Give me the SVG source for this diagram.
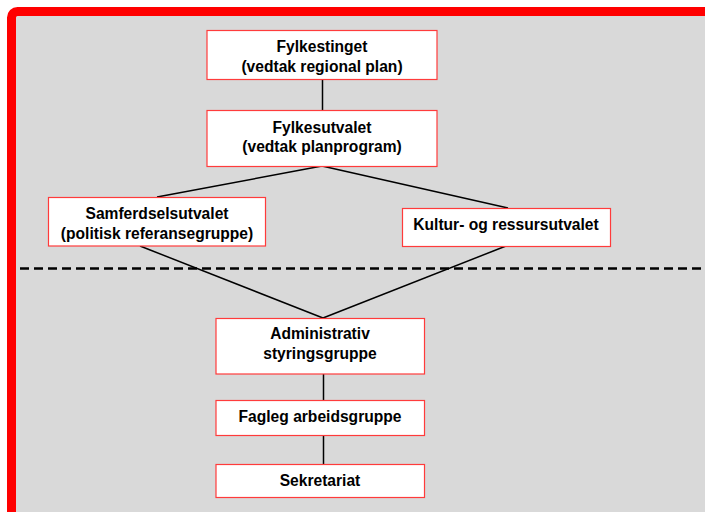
<svg xmlns="http://www.w3.org/2000/svg" width="705" height="512" viewBox="0 0 705 512">
<style>
.box{fill:#fff;stroke:#ff3b3b;stroke-width:1.2}
.t{font-family:"Liberation Sans",Arial,sans-serif;font-weight:bold;font-size:15.6px;fill:#000;text-anchor:middle}
.c{stroke:#000;stroke-width:1.5;fill:none}
</style>
<rect width="705" height="512" fill="#fff"/>
<rect x="11.5" y="11.5" width="720" height="530" rx="6" fill="#d9d9d9" stroke="#ff0000" stroke-width="9"/>
<line x1="20" y1="268.5" x2="705" y2="268.5" stroke="#000" stroke-width="2.5" stroke-dasharray="9,5"/>
<g id="connectors">
<line class="c" x1="322.5" y1="79" x2="322.5" y2="110"/>
<line class="c" x1="322" y1="166" x2="157" y2="197"/>
<line class="c" x1="322" y1="166" x2="508" y2="208"/>
<line class="c" x1="140" y1="246" x2="323" y2="318"/>
<line class="c" x1="506" y1="246" x2="323" y2="318"/>
<line class="c" x1="323.5" y1="374" x2="323.5" y2="400"/>
<line class="c" x1="323.5" y1="435" x2="323.5" y2="464"/>
</g>
<g id="n1"><rect class="box" x="207" y="30.5" width="230" height="49"/><text class="t" x="322" y="51.5">Fylkestinget</text><text class="t" x="322" y="71.5">(vedtak regional plan)</text></g>
<g id="n2"><rect class="box" x="207" y="110.5" width="230" height="56"/><text class="t" x="322" y="132.5">Fylkesutvalet</text><text class="t" x="322" y="151.5">(vedtak planprogram)</text></g>
<g id="n3"><rect class="box" x="48.5" y="197.5" width="217" height="48.5"/><text class="t" x="157" y="218.5">Samferdselsutvalet</text><text class="t" x="157" y="238.5">(politisk referansegruppe)</text></g>
<g id="n4"><rect class="box" x="402.5" y="208.5" width="208" height="38"/><text class="t" x="506" y="229.5">Kultur- og ressursutvalet</text></g>
<g id="n5"><rect class="box" x="216" y="318.5" width="208.5" height="55.5"/><text class="t" x="320" y="338.5">Administrativ</text><text class="t" x="320" y="358.5">styringsgruppe</text></g>
<g id="n6"><rect class="box" x="216" y="400.5" width="208.5" height="35"/><text class="t" x="320" y="421.5">Fagleg arbeidsgruppe</text></g>
<g id="n7"><rect class="box" x="216" y="464.5" width="208.5" height="33"/><text class="t" x="320" y="485.5">Sekretariat</text></g>
</svg>
